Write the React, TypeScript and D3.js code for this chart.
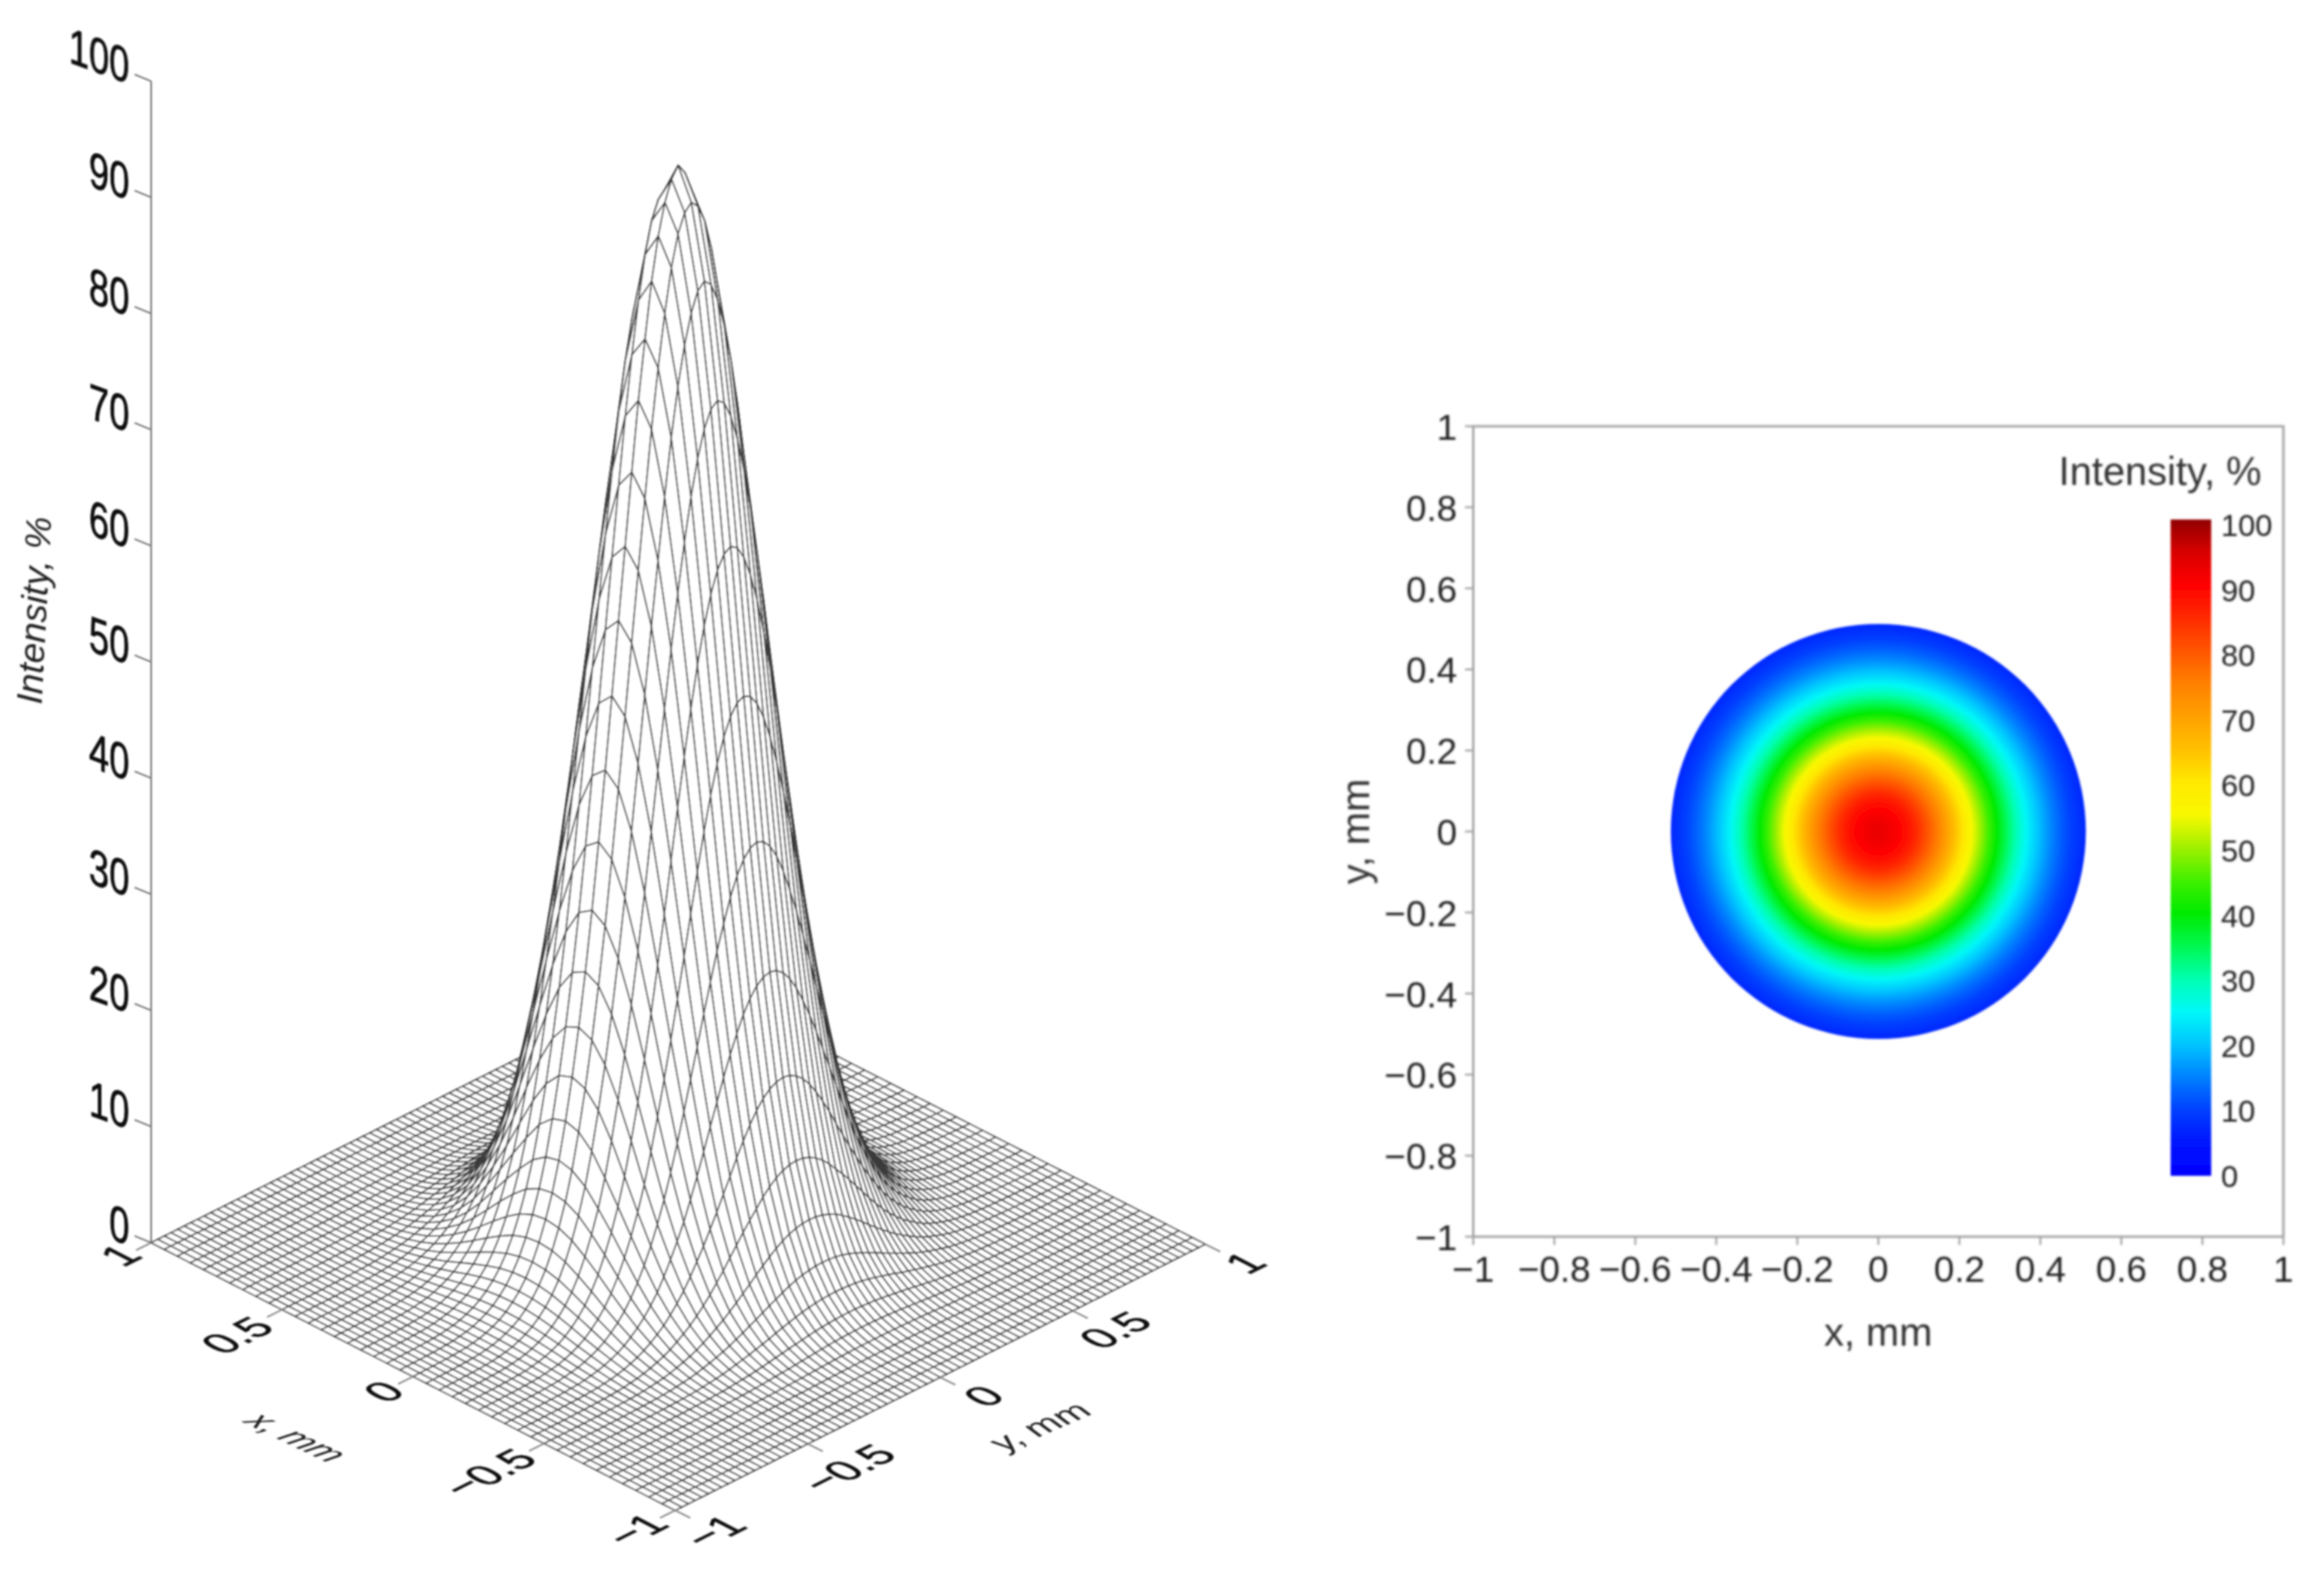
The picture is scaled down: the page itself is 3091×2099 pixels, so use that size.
import React from "react";
import * as d3 from "d3";

// Radial intensity profile read from the wireframe arches (mm, %)
const profileRadius = [0, 0.025, 0.05, 0.075, 0.1, 0.125, 0.15, 0.175, 0.2, 0.225, 0.25, 0.275, 0.3, 0.325, 0.35, 0.375, 0.4, 0.425, 0.45, 0.475, 0.5, 0.525, 0.55, 0.575, 0.6, 0.625, 0.65, 0.675, 0.7, 0.725, 0.75, 0.8, 0.85, 0.9, 1.0, 1.5];
const profileIntensity = [92.8, 91.9, 90.2, 87.6, 84.0, 79.3, 74.3, 68.4, 62.3, 56.2, 50.0, 43.9, 38.0, 32.4, 27.4, 22.9, 18.9, 15.4, 12.3, 9.8, 7.8, 6.1, 4.7, 3.6, 2.75, 2.1, 1.55, 1.15, 0.85, 0.6, 0.42, 0.2, 0.1, 0.05, 0, 0];

const xCells = 40;
const yCells = 80;
const zTicks = [0, 10, 20, 30, 40, 50, 60, 70, 80, 90, 100];
const floorTicks = [1, 0.5, 0, -0.5, -1];
const mapTicks = [-1, -0.8, -0.6, -0.4, -0.2, 0, 0.2, 0.4, 0.6, 0.8, 1];
const barTicks = [0, 10, 20, 30, 40, 50, 60, 70, 80, 90, 100];
const colorLevels = [0, 5, 10, 15, 20, 25, 30, 35, 40, 45, 50, 55, 60, 65, 70, 75, 80, 85, 90, 95, 100];
const colorValues = ["#0000ff", "#0014ff", "#0040ff", "#0080ff", "#00c4ff", "#00f8f8", "#00ffb0", "#00f850", "#00ea00", "#40f000", "#a0f000", "#f8f800", "#ffe800", "#ffc000", "#ffa000", "#ff8000", "#ff5500", "#ff2a00", "#ff0000", "#d80000", "#900000"];

const W = 3091;
const H = 2099;
const intensityAt = d3.scaleLinear<number, number>().domain(profileRadius).range(profileIntensity).clamp(true);
const colorAt = d3.scaleLinear<string, string>().domain(colorLevels).range(colorValues).interpolate(d3.interpolateRgb);

const corner = { bottom: [898, 2009], left: [201, 1653], right: [1603, 1655] };
const zPx = d3.scaleLinear().domain([0, 100]).range([0, 1545]);
const u = d3.scaleLinear().domain([-1, 1]).range([0, 1]);
function project(x: number, y: number, z: number): [number, number] {
  const a = u(x), b = u(y);
  return [
    corner.bottom[0] + a * (corner.left[0] - corner.bottom[0]) + b * (corner.right[0] - corner.bottom[0]),
    corner.bottom[1] + a * (corner.left[1] - corner.bottom[1]) + b * (corner.right[1] - corner.bottom[1]) - zPx(z),
  ];
}
const xGrid = d3.scaleLinear().domain([0, xCells]).range([-1, 1]);
const yGrid = d3.scaleLinear().domain([0, yCells]).range([-1, 1]);
const heightAt = (x: number, y: number) => intensityAt(Math.hypot(x, y));

// Quads sorted from the back corner to the front corner, filled white to hide what lies behind
const quads: { d: string; key: string; depth: number }[] = [];
for (let i = 0; i < xCells; i++) {
  for (let j = 0; j < yCells; j++) {
    const x0 = xGrid(i), x1 = xGrid(i + 1), y0 = yGrid(j), y1 = yGrid(j + 1);
    const line = d3.line();
    const d = line([
      project(x0, y0, heightAt(x0, y0)),
      project(x1, y0, heightAt(x1, y0)),
      project(x1, y1, heightAt(x1, y1)),
      project(x0, y1, heightAt(x0, y1)),
    ])! + "Z";
    quads.push({ d, key: `${i}-${j}`, depth: x0 + y0 });
  }
}
quads.sort((p, q) => q.depth - p.depth);

const hx = d3.scaleLinear().domain([-1, 1]).range([1959.5, 3037]);
const hy = d3.scaleLinear().domain([-1, 1]).range([1645, 567]);
const barY = d3.scaleLinear().domain([0, 100]).range([1564, 698]);
const fmt = (v: number) => (v < 0 ? "\u2212" : "") + String(Math.abs(v));

const floorMatrix = (cx: number, cy: number) => `matrix(0.894,-0.447,0.89,0.46,${cx},${cy})`;
const SANS = "'Liberation Sans', Arial, sans-serif";

const xTickLabelPos: [number, number][] = [[160, 1670], [315, 1776], [510, 1851], [650, 1959], [846, 2035]];
const yTickLabelPos: [number, number][] = [[1656, 1680], [1483, 1769], [1308, 1857], [1128, 1953], [950, 2037]];

export default function App() {
  const mapR = 276;
  const stops = d3.range(0, 0.5101, 0.005);
  return (
    <svg width={W} height={H} viewBox={`0 0 ${W} ${H}`} style={{ position: "absolute", left: 0, top: 0, background: "#fff" }} fontFamily={SANS}>
      <defs>
        <filter id="softL" filterUnits="userSpaceOnUse" x="0" y="0" width={W} height={H}>
          <feGaussianBlur stdDeviation="1" />
        </filter>
        <filter id="softR" filterUnits="userSpaceOnUse" x="0" y="0" width={W} height={H}>
          <feGaussianBlur stdDeviation="1.5" />
        </filter>
        <radialGradient id="beam" gradientUnits="userSpaceOnUse" cx={hx(0)} cy={hy(0)} r={mapR}>
          {stops.map((r) => (
            <stop key={r} offset={r / 0.51} stopColor={colorAt(intensityAt(r))} />
          ))}
        </radialGradient>
        <linearGradient id="bar" gradientUnits="userSpaceOnUse" x1="0" x2="0" y1={1564} y2={691}>
          {colorLevels.map((v, i) => (
            <stop key={v} offset={v / 100} stopColor={colorValues[i]} />
          ))}
        </linearGradient>
      </defs>

      <g filter="url(#softL)">
        <line x1={201} x2={201} y1={1653} y2={1653 - zPx(100)} stroke="#777" strokeWidth={2.2} />
        {zTicks.map((t) => {
          const y = 1653 - zPx(t);
          return (
            <g key={t}>
              <line x1={201} x2={179} y1={y} y2={y - 9} stroke="#777" strokeWidth={2} />
              <text transform={`translate(172,${y + 4}) skewY(20) scale(0.72,1)`} textAnchor="end" fontSize={67} fill="#111" stroke="#111" strokeWidth={1}>{fmt(t)}</text>
            </g>
          );
        })}
        <g fill="#fff" stroke="#3a3a3a" strokeWidth={1.85} strokeLinejoin="round">
          {quads.map((q) => (
            <path key={q.key} d={q.d} />
          ))}
        </g>
        {floorTicks.map((t, i) => {
          const [x, y] = project(t, -1, 0);
          const [xr, yr] = project(-1, t, 0);
          return (
            <g key={t}>
              <line x1={x} y1={y} x2={x - 20} y2={y + 10} stroke="#888" strokeWidth={2} />
              <line x1={xr} y1={yr} x2={xr + 20} y2={yr + 10} stroke="#888" strokeWidth={2} />
              <text transform={floorMatrix(xTickLabelPos[i][0], xTickLabelPos[i][1])} y={20} textAnchor="middle" fontSize={57} fill="#111" stroke="#111" strokeWidth={0.8}>{fmt(t)}</text>
              <text transform={floorMatrix(yTickLabelPos[i][0], yTickLabelPos[i][1])} y={20} textAnchor="middle" fontSize={57} fill="#111" stroke="#111" strokeWidth={0.8}>{fmt(t)}</text>
            </g>
          );
        })}
        <text transform="matrix(0.9,0.43,-0.89,0.45,396,1911)" y={18} textAnchor="middle" fontSize={47} fontStyle="italic" fill="#222">x, mm</text>
        <text transform="matrix(0.92,-0.4,0.89,0.45,1381,1897)" y={18} textAnchor="middle" fontSize={49} fontStyle="italic" fill="#222">y, mm</text>
        <text transform="translate(46,812) rotate(-87)" y={16} textAnchor="middle" fontSize={49} fontStyle="italic" fill="#222">Intensity, %</text>
      </g>

      <g filter="url(#softR)">
        <circle cx={hx(0)} cy={hy(0)} r={mapR} fill="url(#beam)" />
        <rect x={hx(-1)} y={hy(1)} width={hx(1) - hx(-1)} height={hy(-1) - hy(1)} fill="none" stroke="#a0a0a0" strokeWidth={3} />
        {mapTicks.map((t) => (
          <g key={t}>
            <line x1={hx(t)} x2={hx(t)} y1={hy(-1)} y2={hy(-1) + 11} stroke="#a0a0a0" strokeWidth={2.5} />
            <line y1={hy(t)} y2={hy(t)} x1={hx(-1)} x2={hx(-1) - 11} stroke="#a0a0a0" strokeWidth={2.5} />
            <text x={hx(t)} y={1705} textAnchor="middle" fontSize={49} fill="#222">{fmt(t)}</text>
            <text x={1938} y={hy(t) + 18} textAnchor="end" fontSize={49} fill="#222">{fmt(t)}</text>
          </g>
        ))}
        <text x={2498} y={1790} textAnchor="middle" fontSize={53} fill="#333">x, mm</text>
        <text transform="translate(1803,1106) rotate(-90)" y={18} textAnchor="middle" fontSize={53} fill="#333">y, mm</text>
        <text x={3008} y={645} textAnchor="end" fontSize={53} fill="#333">Intensity, %</text>
        <rect x={2887} y={691} width={54} height={873} fill="url(#bar)" />
        {barTicks.map((t) => (
          <text key={t} x={2954} y={barY(t) + 15} fontSize={41} fill="#222">{String(t)}</text>
        ))}
      </g>
    </svg>
  );
}
